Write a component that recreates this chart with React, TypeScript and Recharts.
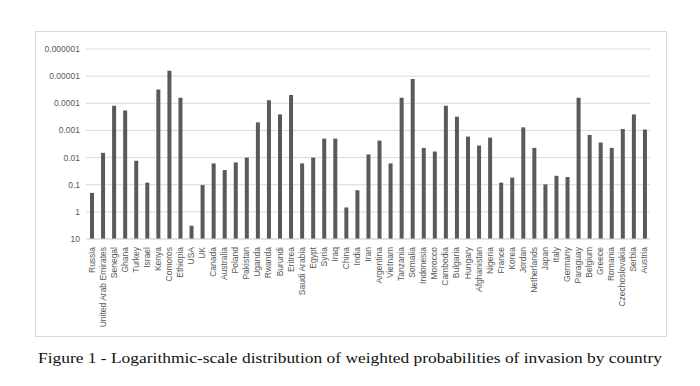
import { BarChart, Bar, XAxis, YAxis, CartesianGrid } from 'recharts';

const countries = [
  'Russia', 'United Arab Emirates', 'Senegal', 'Ghana', 'Turkey', 'Israel', 'Kenya', 'Comoros',
  'Ethiopia', 'USA', 'UK', 'Canada', 'Australia', 'Poland', 'Pakistan', 'Uganda', 'Rwanda',
  'Burundi', 'Eritrea', 'Saudi Arabia', 'Egypt', 'Syria', 'Iraq', 'China', 'India', 'Iran',
  'Argentina', 'Vietnam', 'Tanzania', 'Somalia', 'Indonesia', 'Morocco', 'Cambodia', 'Bulgaria',
  'Hungary', 'Afghanistan', 'Nigeria', 'France', 'Korea', 'Jordan', 'Netherlands', 'Japan',
  'Italy', 'Germany', 'Paraguay', 'Belgium', 'Greece', 'Romania', 'Czechoslovakia', 'Serbia',
  'Austria',
];

// weighted probability of invasion
const probabilities = [
  0.2, 0.0067, 0.000124, 0.000183, 0.0131, 0.0838, 0.0000312, 0.0000063,
  0.000063, 3.25, 0.103, 0.0164, 0.0289, 0.0151, 0.01, 0.000504, 0.0000765,
  0.000257, 0.00005, 0.0164, 0.01, 0.002, 0.002, 0.69, 0.16, 0.0077,
  0.00237, 0.0164, 0.000063, 0.0000127, 0.0044, 0.006, 0.000124, 0.000313,
  0.00169, 0.0036, 0.00184, 0.0838, 0.055, 0.00077, 0.0044, 0.097,
  0.047, 0.052, 0.000063, 0.00147, 0.0028, 0.0044, 0.00089, 0.000257,
  0.00093,
];

const yTicks = [0.000001, 0.00001, 0.0001, 0.001, 0.01, 0.1, 1, 10];
const yTickLabels = ['0.000001', '0.00001', '0.0001', '0.001', '0.01', '0.1', '1', '10'];

const caption =
  'Figure 1 - Logarithmic-scale distribution of weighted probabilities of invasion by country';

// bars hang from 10 (bottom of the reversed log axis) up to the value
const data = countries.map((name, i) => ({
  name,
  range: [10, probabilities[i]],
}));

const font = '"Liberation Sans", Arial, sans-serif';

const CountryTick = ({ x, y, payload }: any) => (
  <text
    x={x}
    y={y + 6}
    transform={`rotate(-90 ${x} ${y + 6})`}
    textAnchor="end"
    dy={3}
    fontSize={8.5}
    fontFamily={font}
    fill="#595959"
  >
    {payload.value}
  </text>
);

export default function App() {
  return (
    <div style={{ position: 'absolute', left: 0, top: 0, width: 700, height: 386, background: '#fff' }}>
      <div
        style={{
          position: 'absolute',
          left: 35,
          top: 31,
          width: 630,
          height: 304,
          border: '1px solid #d9d9d9',
        }}
      >
        <BarChart
          width={630}
          height={304}
          data={data}
          margin={{ top: 17, right: 16, left: 0, bottom: 0 }}
          barCategoryGap={0}
        >
          <CartesianGrid vertical={false} stroke="#d9d9d9" />
          <XAxis
            dataKey="name"
            interval={0}
            tick={<CountryTick />}
            tickLine={false}
            tickSize={0}
            axisLine={{ stroke: '#d9d9d9' }}
            height={97}
          />
          <YAxis
            scale="log"
            domain={[0.000001, 10]}
            ticks={yTicks}
            reversed
            allowDataOverflow
            width={50}
            axisLine={false}
            tickLine={false}
            tickSize={4}
            tickMargin={2}
            tickFormatter={(v: number) => yTickLabels[yTicks.indexOf(v)] ?? String(v)}
            tick={{ fontSize: 8.5, fill: '#595959', fontFamily: font }}
          />
          <Bar dataKey="range" fill="#595959" barSize={4} isAnimationActive={false} />
        </BarChart>
      </div>
      <svg width={700} height={40} style={{ position: 'absolute', left: 0, top: 340 }}>
        <text
          x={38}
          y={23}
          textLength={624}
          lengthAdjust="spacingAndGlyphs"
          fontSize={15}
          fontFamily='"Liberation Serif", "DejaVu Serif", serif'
          fill="#111"
        >
          {caption}
        </text>
      </svg>
    </div>
  );
}
